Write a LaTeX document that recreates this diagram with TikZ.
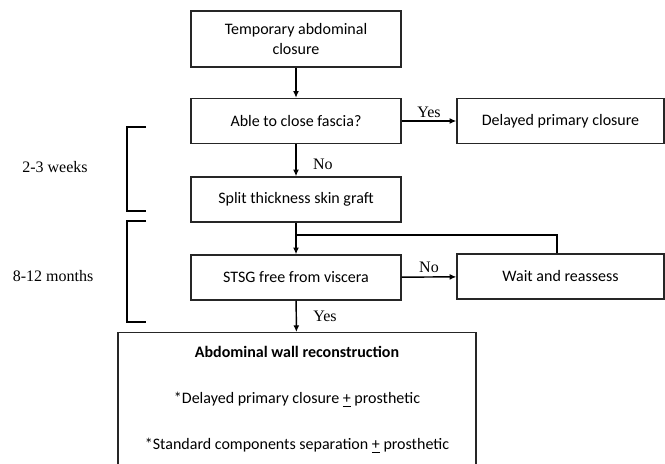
\documentclass[tikz,border=0pt]{standalone}
\usepackage{fontspec}
\setmainfont{Carlito}
\newfontfamily\timesfont{Liberation Serif}
\usetikzlibrary{arrows.meta}

\begin{document}
\begin{tikzpicture}[x=0.75pt, y=-0.75pt, line width=1.1pt,
  box/.style={draw=black!85, minimum width=157.5pt, minimum height=33.75pt, align=center, inner sep=2pt, font=\fontsize{12}{14.5}\selectfont},
  lbl/.style={font=\timesfont\fontsize{12}{14}\selectfont},
  arr/.style={-{Latex[length=5pt, width=4.5pt]}}]
  \clip (0,0) rectangle (665,464);

  \node[box, minimum height=42pt] (tac) at (296,39) {Temporary abdominal\\closure};
  \node[box] (fascia) at (296,121) {Able to close fascia?};
  \node[box, minimum width=155.25pt] (dpc) at (560.5,121) {Delayed primary closure};
  \node[box] (graft) at (296,199.5) {Split thickness skin graft};
  \node[box] (viscera) at (296,277.5) {STSG free from viscera};
  \node[box, minimum width=155.25pt] (wait) at (560.5,276.5) {Wait and reassess};
  \node[box, anchor=north, minimum width=268.5pt, inner ysep=10.5pt, text depth=40pt] (awr) at (297,332)
    {\textbf{Abdominal wall reconstruction}\\[20pt]
     *Delayed primary closure \underline{+} prosthetic\\[20pt]
     *Standard components separation \underline{+} prosthetic};

  \draw[arr] (tac) -- (fascia);
  \draw[arr] (fascia) -- node[lbl, above=-1pt] {Yes} (dpc);
  \draw[arr] (fascia) -- node[lbl, right=9pt, pos=0.62] {No} (graft);
  \coordinate (join) at (296,235);
  \draw[arr] (graft) -- (viscera);
  \draw (wait.north -| 557,0) |- (join);
  \draw[arr] (viscera) -- node[lbl, above=-1pt] {No} (wait);
  \draw[arr] (viscera) -- node[lbl, right=9pt] {Yes} (awr);

  \foreach \t/\b in {127/211, 221/322}
    \draw (146,\t) -| (127,\b) -- (146,\b);
  \node[lbl] at (55,167) {2-3 weeks};
  \node[lbl] at (53,276) {8-12 months};
\end{tikzpicture}
\end{document}
